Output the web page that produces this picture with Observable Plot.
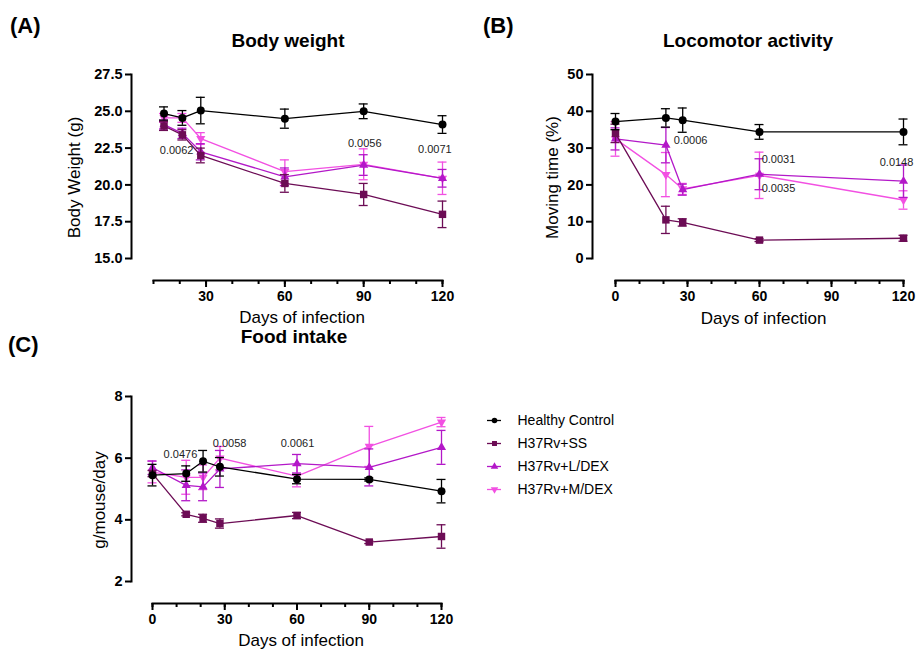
<!DOCTYPE html>
<html><head><meta charset="utf-8">
<script src="https://cdn.jsdelivr.net/npm/d3@7"></script>
<script src="https://cdn.jsdelivr.net/npm/@observablehq/plot@0.6"></script>
<style>
body{margin:0;background:#fff;}
#root{position:relative;width:917px;height:651px;overflow:hidden;font-family:"Liberation Sans",Arial,sans-serif;color:#000;}
.panel{position:absolute;}
.ttl{position:absolute;font-weight:bold;font-size:19px;line-height:19px;white-space:nowrap;transform:translateX(-50%);}
.tag{position:absolute;font-weight:bold;font-size:22px;line-height:22px;}
g[aria-label="x-axis tick label"]{font-weight:bold;font-size:14px;}
g[aria-label="y-axis tick label"]{font-weight:bold;font-size:14.5px;}
g[aria-label="y-axis label"]{font-size:17px;font-weight:normal;}
</style></head>
<body><div id="root">
<div class="tag" style="left:10px;top:15px">(A)</div>
<div class="ttl" style="left:288px;top:31px">Body weight</div>
<div class="tag" style="left:483px;top:15px">(B)</div>
<div class="ttl" style="left:748px;top:31px">Locomotor activity</div>
<div class="tag" style="left:8px;top:334px">(C)</div>
<div class="ttl" style="left:294px;top:327px">Food intake</div>
</div>
<script>
// ---- series / categories ----
const groups = ["Healthy Control", "H37Rv+SS", "H37Rv+L/DEX", "H37Rv+M/DEX"];

// (A) Body weight (g)
const bwDays = [14, 21, 28, 60, 90, 120];
const bwHealthy = [24.85, 24.55, 25.05, 24.5, 25.0, 24.1];
const bwHealthyErr = [0.45, 0.5, 0.9, 0.65, 0.5, 0.6];
const bwSS = [24.0, 23.4, 22.0, 20.1, 19.35, 18.0];
const bwSSErr = [0.3, 0.35, 0.5, 0.6, 0.75, 0.9];
const bwL = [24.1, 23.5, 22.25, 20.55, 21.35, 20.45];
const bwLErr = [0.3, 0.35, 0.55, 0.6, 0.7, 0.6];
const bwM = [24.55, 24.55, 23.15, 20.9, 21.4, 20.45];
const bwMErr = [0.3, 0.3, 0.4, 0.8, 1.05, 1.1];
const bwNotes = [
  {day: 18.8, value: 22.35, text: "0.0062"},
  {day: 90.4, value: 22.8, text: "0.0056"},
  {day: 117.1, value: 22.4, text: "0.0071"}
];

// (B) Locomotor activity, moving time (%)
const lmDays = [0, 21, 28, 60, 120];
const lmHealthy = [37.2, 38.2, 37.6, 34.4, 34.4];
const lmHealthyErr = [2.2, 2.5, 3.3, 2.0, 3.5];
const lmSS = [34.0, 10.5, 9.8, 5.0, 5.5];
const lmSSErr = [2.5, 3.7, 1.0, 0.4, 0.8];
const lmL = [32.5, 30.8, 18.7, 22.9, 21.0];
const lmLErr = [3.0, 4.8, 1.5, 4.2, 4.4];
const lmM = [32.5, 22.8, 18.9, 22.6, 15.9];
const lmMErr = [4.7, 6.0, 1.5, 6.3, 2.5];
const lmNotes = [
  {day: 31.3, value: 32.1, text: "0.0006"},
  {day: 67.9, value: 26.9, text: "0.0031"},
  {day: 67.9, value: 19.0, text: "0.0035"},
  {day: 117.1, value: 26.1, text: "0.0148"}
];

// (C) Food intake (g/mouse/day)
const fiDays = [0, 14, 21, 28, 60, 90, 120];
const fiHealthy = [5.45, 5.5, 5.9, 5.72, 5.32, 5.31, 4.93];
const fiHealthyErr = [0.35, 0.25, 0.35, 0.3, 0.15, 0.05, 0.38];
const fiSS = [5.5, 4.18, 4.05, 3.88, 4.14, 3.28, 3.46];
const fiSSErr = [0.1, 0.05, 0.13, 0.15, 0.1, 0.05, 0.38];
const fiL = [5.69, 5.12, 5.07, 5.65, 5.82, 5.7, 6.35];
const fiLErr = [0.22, 0.5, 0.45, 0.6, 0.3, 0.6, 0.55];
const fiM = [5.55, 5.38, 5.38, 6.0, 5.42, 6.38, 7.17];
const fiMErr = [0.35, 0.55, 0.4, 0.38, 0.35, 0.65, 0.15];
const fiNotes = [
  {day: 11.6, value: 6.12, text: "0.0476"},
  {day: 32, value: 6.48, text: "0.0058"},
  {day: 60.2, value: 6.48, text: "0.0061"}
];

// tick values
const bwYTicks = [15, 17.5, 20, 22.5, 25, 27.5];
const lmYTicks = [0, 10, 20, 30, 40, 50];
const fiYTicks = [2, 4, 6, 8];
const majorDays = [0, 30, 60, 90, 120];
const minorDays = [0, 10, 20, 30, 40, 50, 60, 70, 80, 90, 100, 110, 120];
const xTitle = "Days of infection";

// ---- styles ----
const colors = ["#000000", "#6c0c55", "#b318c8", "#f250e2"];
const symbols = ["circle", "square", "triangle", "triangle"];
const rotations = [0, 0, 0, 180];
const radii = [4, 4.2, 3.4, 3.4];
const drawOrder = [3, 2, 1, 0];

function makeRows(days, series) {
  const rows = [];
  series.forEach(([vals, errs], gi) => {
    days.forEach((d, i) => rows.push({day: d, value: vals[i], err: errs[i], group: groups[gi]}));
  });
  return rows;
}

function panel(o) {
  const mid = (o.xDomain[0] + o.xDomain[1]) / 2;
  const marks = [
    Plot.frame({anchor: "left", insetBottom: 22, strokeWidth: 2}),
    Plot.frame({anchor: "bottom", insetLeft: o.insetLeft, strokeWidth: 2}),
    Plot.axisY({ticks: o.yTicks, tickFormat: o.yFormat, tickSize: 6, strokeWidth: 2,
      label: o.yLabel, labelAnchor: "center", labelOffset: o.yLabelOffset, labelArrow: "none"}),
    Plot.axisX({ticks: minorDays.filter(d => d >= o.xDomain[0]), tickSize: 4, strokeWidth: 2, tickFormat: () => "", label: null}),
    Plot.axisX({ticks: majorDays.filter(d => d >= o.xDomain[0]), tickSize: 7, tickPadding: 4, strokeWidth: 2, label: null}),
    Plot.text([xTitle], {x: () => mid, text: d => d, frameAnchor: "bottom", lineAnchor: "top", dy: o.xTitleDy, dx: 4, fontSize: 17})
  ];
  for (const gi of drawOrder) {
    const g = groups[gi];
    const c = colors[gi];
    const rows = o.rows.filter(r => r.group === g);
    marks.push(
      Plot.line(rows, {x: "day", y: "value", stroke: c, strokeWidth: 1.3}),
      Plot.ruleX(rows, {x: "day", y1: d => d.value - d.err, y2: d => d.value + d.err, stroke: c, strokeWidth: 1.3}),
      Plot.ruleY(rows, {x1: "day", x2: "day", y: d => d.value + d.err, insetLeft: -4.5, insetRight: -4.5, stroke: c, strokeWidth: 1.3}),
      Plot.ruleY(rows, {x1: "day", x2: "day", y: d => d.value - d.err, insetLeft: -4.5, insetRight: -4.5, stroke: c, strokeWidth: 1.3}),
      Plot.dot(rows, {x: "day", y: "value", symbol: symbols[gi], rotate: rotations[gi], r: radii[gi], fill: c, stroke: null})
    );
  }
  marks.push(Plot.text(o.notes, {x: "day", y: "value", text: "text", fontSize: 11, fill: "#222"}));
  const el = Plot.plot({
    width: o.width, height: o.height,
    marginLeft: o.marginLeft, marginRight: o.marginRight, marginTop: o.marginTop, marginBottom: o.marginBottom,
    style: {fontFamily: '"Liberation Sans", Arial, sans-serif', fontSize: "14px", overflow: "visible", background: "transparent"},
    x: {domain: o.xDomain, insetLeft: o.insetLeft, label: null},
    y: {domain: o.yDomain, insetBottom: 22, label: null},
    marks
  });
  el.classList.add("panel");
  el.style.left = o.left + "px";
  el.style.top = o.top + "px";
  document.getElementById("root").appendChild(el);
}

panel({
  rows: makeRows(bwDays, [[bwHealthy, bwHealthyErr], [bwSS, bwSSErr], [bwL, bwLErr], [bwM, bwMErr]]),
  notes: bwNotes, xDomain: [10, 120], yDomain: [15, 27.5], yTicks: bwYTicks, yFormat: d3.format(".1f"),
  yLabel: "Body Weight (g)", yLabelOffset: 64, xTitleDy: 30, insetLeft: 22,
  left: 0, top: 0, width: 460, height: 330, marginLeft: 131, marginRight: 18, marginTop: 74, marginBottom: 50
});
panel({
  rows: makeRows(lmDays, [[lmHealthy, lmHealthyErr], [lmSS, lmSSErr], [lmL, lmLErr], [lmM, lmMErr]]),
  notes: lmNotes, xDomain: [0, 120], yDomain: [0, 50], yTicks: lmYTicks, yFormat: d3.format("d"),
  yLabel: "Moving time (%)", yLabelOffset: 47, xTitleDy: 31, insetLeft: 23,
  left: 460, top: 0, width: 457, height: 330, marginLeft: 132, marginRight: 14, marginTop: 74, marginBottom: 50
});
panel({
  rows: makeRows(fiDays, [[fiHealthy, fiHealthyErr], [fiSS, fiSSErr], [fiL, fiLErr], [fiM, fiMErr]]),
  notes: fiNotes, xDomain: [0, 120], yDomain: [2, 8], yTicks: fiYTicks, yFormat: d3.format("d"),
  yLabel: "g/mouse/day", yLabelOffset: 39, xTitleDy: 30, insetLeft: 21,
  left: 0, top: 330, width: 460, height: 321, marginLeft: 131, marginRight: 19, marginTop: 66, marginBottom: 48
});

// legend
const legendMarks = [];
groups.forEach((g, gi) => {
  legendMarks.push(
    Plot.ruleY([g], {y: d => d, x1: 0, x2: 1, stroke: colors[gi], strokeWidth: 1.3}),
    Plot.dot([g], {x: 0.5, y: d => d, symbol: symbols[gi], rotate: rotations[gi], r: 2.8, fill: colors[gi], stroke: null}),
    Plot.text([g], {x: 1, y: d => d, dx: 16, text: d => d, textAnchor: "start", fontSize: 14})
  );
});
const leg = Plot.plot({
  width: 200, height: 100, margin: 0,
  style: {fontFamily: '"Liberation Sans", Arial, sans-serif', overflow: "visible", background: "transparent"},
  x: {domain: [0, 1], range: [7, 21], axis: null},
  y: {type: "point", domain: groups, range: [14, 85], padding: 0, axis: null},
  marks: legendMarks
});
leg.classList.add("panel");
leg.style.left = "480px";
leg.style.top = "405px";
document.getElementById("root").appendChild(leg);
</script>
</body></html>
